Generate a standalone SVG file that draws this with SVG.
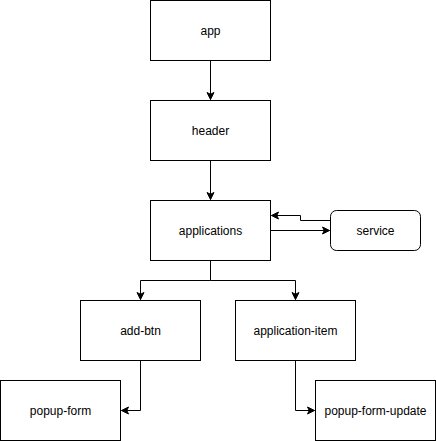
<svg xmlns="http://www.w3.org/2000/svg" width="436" height="441" viewBox="0 0 436 441">
<style>
.box{fill:#fff;stroke:#000;stroke-width:1}
.lbl{font-family:"Liberation Sans",Arial,sans-serif;font-size:12px;fill:#000;text-anchor:middle;dominant-baseline:central}
.edge{fill:none;stroke:#000;stroke-width:1}
</style>
<defs>
<marker id="arr" markerUnits="userSpaceOnUse" markerWidth="10" markerHeight="10" refX="0" refY="0" viewBox="-8 -5 10 10" orient="auto" overflow="visible">
<path d="M0,0 L-7,-3.5 L-5.25,0 L-7,3.5 Z" fill="#000" stroke="#000" stroke-width="1"/>
</marker>
</defs>
<rect width="436" height="441" fill="#fff"/>
<g id="connectors">
<path class="edge" d="M210.5,60.5 V99.5" marker-end="url(#arr)"/>
<path class="edge" d="M210.5,160.5 V199.5" marker-end="url(#arr)"/>
<path class="edge" d="M270.5,230.5 H329.5" marker-end="url(#arr)"/>
<path class="edge" d="M330.5,220.5 H300.5 V215.5 H271.5" marker-end="url(#arr)"/>
<path class="edge" d="M210.5,260.5 V280.5 H140.5 V299.5" marker-end="url(#arr)"/>
<path class="edge" d="M210.5,280.5 H295.5 V299.5" marker-end="url(#arr)"/>
<path class="edge" d="M140.5,360.5 V410.5 H121.5" marker-end="url(#arr)"/>
<path class="edge" d="M295.5,360.5 V410.5 H314.5" marker-end="url(#arr)"/>
</g>
<g id="app"><rect class="box" x="150.5" y="0.5" width="120" height="60"/><text class="lbl" x="210.5" y="30.5">app</text></g>
<g id="header"><rect class="box" x="150.5" y="100.5" width="120" height="60"/><text class="lbl" x="210.5" y="130.5">header</text></g>
<g id="applications"><rect class="box" x="150.5" y="200.5" width="120" height="60"/><text class="lbl" x="210.5" y="230.5">applications</text></g>
<g id="service"><rect class="box" x="330.5" y="210.5" width="90" height="40" rx="6" ry="6"/><text class="lbl" x="375.5" y="230.5">service</text></g>
<g id="add-btn"><rect class="box" x="80.5" y="300.5" width="120" height="60"/><text class="lbl" x="140.5" y="330.5">add-btn</text></g>
<g id="application-item"><rect class="box" x="235.5" y="300.5" width="120" height="60"/><text class="lbl" x="295.5" y="330.5">application-item</text></g>
<g id="popup-form"><rect class="box" x="0.5" y="380.5" width="120" height="60"/><text class="lbl" x="60.5" y="410.5">popup-form</text></g>
<g id="popup-form-update"><rect class="box" x="315.5" y="380.5" width="120" height="60"/><text class="lbl" x="375.5" y="410.5">popup-form-update</text></g>
</svg>
